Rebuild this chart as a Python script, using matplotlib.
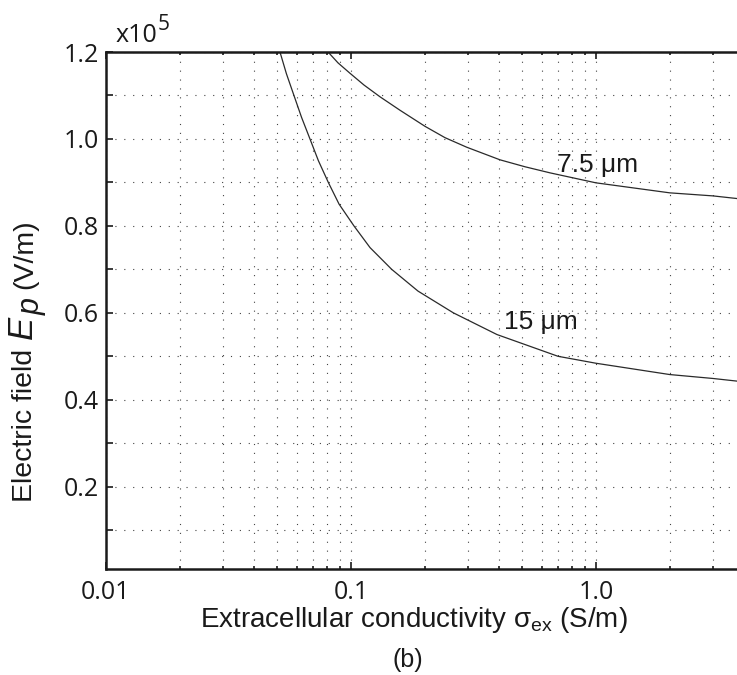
import numpy as np
import matplotlib
matplotlib.use("Agg")
import matplotlib.pyplot as plt
from matplotlib.ticker import FixedLocator, NullFormatter, FixedFormatter

plt.rcParams['font.family'] = ['Liberation Sans', 'DejaVu Sans']
plt.rcParams['mathtext.fontset'] = 'custom'
plt.rcParams['mathtext.rm'] = 'Liberation Sans'
plt.rcParams['mathtext.it'] = 'Liberation Sans:italic'

# Data (sigma in S/m, E in units of 1e5 V/m)
sigma_15 = [0.0513, 0.0545, 0.0585, 0.0628, 0.0680, 0.0736, 0.0808, 0.0894, 0.1028,
            0.1196, 0.1466, 0.1877, 0.2616, 0.3944, 0.6997, 1.0, 2.0, 3.0, 3.75, 4.0]
E_15 = [1.200, 1.150, 1.100, 1.050, 1.000, 0.950, 0.900, 0.850, 0.800,
        0.750, 0.700, 0.650, 0.600, 0.550, 0.500, 0.484, 0.458, 0.449, 0.443, 0.441]

sigma_75 = [0.0806, 0.0885, 0.0991, 0.113, 0.1313, 0.1585, 0.2005, 0.2418, 0.2966,
            0.4055, 0.513, 0.649, 1.0, 2.0, 3.0, 3.75, 4.0]
E_75 = [1.200, 1.175, 1.151, 1.124, 1.097, 1.066, 1.029, 1.003, 0.981,
        0.952, 0.936, 0.922, 0.899, 0.876, 0.869, 0.863, 0.861]

x_major = [0.01, 0.1, 1.0]
x_major_labels = ['0.01', '0.1', '1.0']
y_major = [0.2, 0.4, 0.6, 0.8, 1.0, 1.2]
y_major_labels = ['0.2', '0.4', '0.6', '0.8', '1.0', '1.2']

W, H = 737, 675
fig = plt.figure(figsize=(W / 100, H / 100), dpi=100)
left, right, bottom, top = 106, 743.5, 675 - 569.3, 675 - 52
ax = fig.add_axes([left / W, bottom / H, (right - left) / W, (top - bottom) / H])

ax.plot(sigma_15, E_15, color='#2a2a2a', lw=0.9)
ax.plot(sigma_75, E_75, color='#2a2a2a', lw=0.9)

ax.set_xscale('log')
ax.set_xlim(0.01, 4.0)
ax.set_ylim(0.01, 1.2)

ax.xaxis.set_major_locator(FixedLocator(x_major))
ax.xaxis.set_major_formatter(FixedFormatter(x_major_labels))
xminor = [m * d for d in [0.01, 0.1, 1.0] for m in range(2, 10) if m * d <= 4.0]
ax.xaxis.set_minor_locator(FixedLocator(xminor))
ax.xaxis.set_minor_formatter(NullFormatter())

ax.yaxis.set_major_locator(FixedLocator(y_major))
ax.yaxis.set_major_formatter(FixedFormatter(y_major_labels))
ax.yaxis.set_minor_locator(FixedLocator([0.1, 0.3, 0.5, 0.7, 0.9, 1.1]))

grid_kw = dict(color='#444444', linewidth=0.8, linestyle=(0, (1, 7)))
ax.grid(True, which='both', axis='both', **grid_kw)

ax.tick_params(axis='both', which='both', direction='in', top=True, right=False,
               width=1.2, colors='#1a1a1a', labelsize=18)
ax.tick_params(axis='y', which='major', length=5, pad=5)
ax.tick_params(axis='y', which='minor', length=5)
ax.tick_params(axis='x', which='major', length=5, pad=8)
ax.tick_params(axis='x', which='minor', length=2)

for s in ['left', 'bottom', 'top']:
    ax.spines[s].set_linewidth(1.8)
    ax.spines[s].set_color('#1a1a1a')
ax.spines['right'].set_visible(False)

for lab in ax.get_xticklabels() + ax.get_yticklabels():
    lab.set_fontfamily(['Open Sans', 'DejaVu Sans'])
    lab.set_color('#1a1a1a')

def ax_x(px):
    return (px - left) / (right - left)

def ax_y(py):
    return (569.3 - py) / (569.3 - 52)

ax.set_xlabel('Extracellular conductivity σ$_{\\mathrm{ex}}$ (S/m)', fontsize=20, color='#1a1a1a')
ax.xaxis.set_label_coords(ax_x(413.5), ax_y(627))
ax.xaxis.label.set_va('baseline')

# y label built from pieces (larger italic E_p as in the reference)
fig.canvas.draw()
renderer = fig.canvas.get_renderer()
pieces = [('Electric field', 'normal', 20.5, 0, 0),
          ('E', 'italic', 25, 0, 10),
          ('p', 'italic', 22, 8, 1),
          ('(V/m)', 'normal', 20.5, 0, 9)]
ypos = 675 - 502
for txt, style, fs, dx, gap in pieces:
    ypos += gap
    t = fig.text((32 + dx) / W, ypos / H, txt, rotation=90, rotation_mode='anchor',
                 ha='left', va='baseline', fontsize=fs, style=style, color='#1a1a1a')
    bb = t.get_window_extent(renderer)
    ypos += bb.height

ax.text(ax_x(557), ax_y(172), '7.5 μm', fontsize=19, ha='left', va='baseline',
        color='#1a1a1a', transform=ax.transAxes)
ax.text(ax_x(504), ax_y(329.3), '15 μm', fontsize=19, ha='left', va='baseline',
        color='#1a1a1a', transform=ax.transAxes)

fig.text(116 / W, 1 - 42 / H, 'x10', fontsize=18, ha='left', va='baseline',
         family=['Open Sans', 'DejaVu Sans'], color='#1a1a1a')
fig.text(158 / W, 1 - 30 / H, '5', fontsize=15, ha='left', va='baseline',
         family=['Open Sans', 'DejaVu Sans'], color='#1a1a1a')
fig.text(408 / W, 1 - 660 / H, '(b)', fontsize=18, ha='center', va='center', color='#1a1a1a')

fig.savefig('out.png', dpi=100)
